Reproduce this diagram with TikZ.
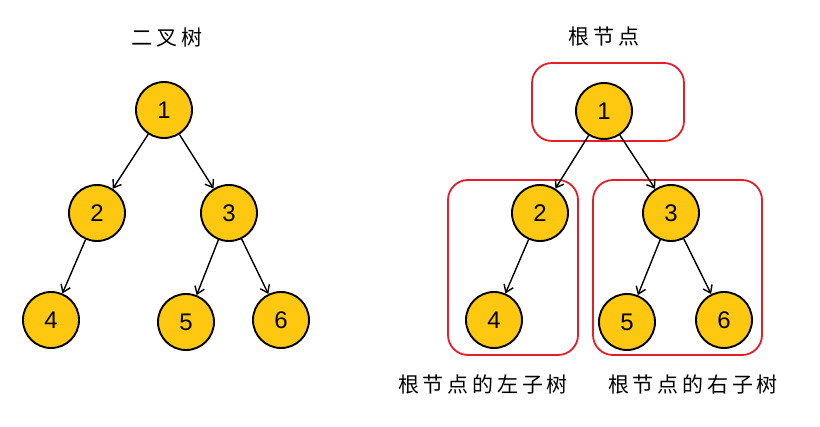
\documentclass[tikz,border=0pt]{standalone}
\usepackage{fontspec}
\setsansfont{Liberation Sans}
\newfontfamily\cjk[LetterSpace=18]{Noto Sans CJK SC}
\usetikzlibrary{arrows.meta}
\definecolor{nodefill}{RGB}{255,200,16}
\definecolor{boxred}{RGB}{230,30,40}
\tikzset{
  tn/.style={circle,draw=black,line width=1.9pt,fill=nodefill,minimum size=56pt,inner sep=0pt,font=\sffamily\fontsize{24}{24}\selectfont},
  edge/.style={line width=1.4pt,-{Straight Barb[length=7pt,width=10pt,line width=1.4pt]}},
  grp/.style={draw=boxred,line width=1.8pt,rounded corners=20pt},
  lbl/.style={font=\cjk\fontsize{21}{21}\selectfont,inner sep=0pt}
}
\begin{document}
\begin{tikzpicture}[x=1pt,y=-1pt]
\useasboundingbox (0,0) rectangle (820,427);
% left tree
\node[lbl] (t1) at (167,38) {二叉树};
\node[tn] (a1) at (164,110) {1};
\node[tn] (a2) at (97,213) {2};
\node[tn] (a3) at (229,213) {3};
\node[tn] (a4) at (51,320) {4};
\node[tn] (a5) at (186,322) {5};
\node[tn] (a6) at (281,320) {6};
\draw[edge] (a1) -- (a2);
\draw[edge] (a1) -- (a3);
\draw[edge] (a2) -- (a4);
\draw[edge] (a3) -- (a5);
\draw[edge] (a3) -- (a6);
% right tree
\node[lbl] (t2) at (604,37) {根节点};
\node[grp,minimum width=152pt,minimum height=78pt] (g1) at (608,102) {};
\node[grp,minimum width=130pt,minimum height=175pt] (g2) at (513,267.5) {};
\node[grp,minimum width=169pt,minimum height=175pt] (g3) at (677.5,267.5) {};
\node[tn] (b1) at (604,111) {1};
\node[tn] (b2) at (540,213) {2};
\node[tn] (b3) at (671,213) {3};
\node[tn] (b4) at (494,320) {4};
\node[tn] (b5) at (627,322) {5};
\node[tn] (b6) at (724,320) {6};
\draw[edge] (b1) -- (b2);
\draw[edge] (b1) -- (b3);
\draw[edge] (b2) -- (b4);
\draw[edge] (b3) -- (b5);
\draw[edge] (b3) -- (b6);
\node[lbl] (l1) at (483,384) {根节点的左子树};
\node[lbl] (l2) at (693,384) {根节点的右子树};
\end{tikzpicture}
\end{document}
